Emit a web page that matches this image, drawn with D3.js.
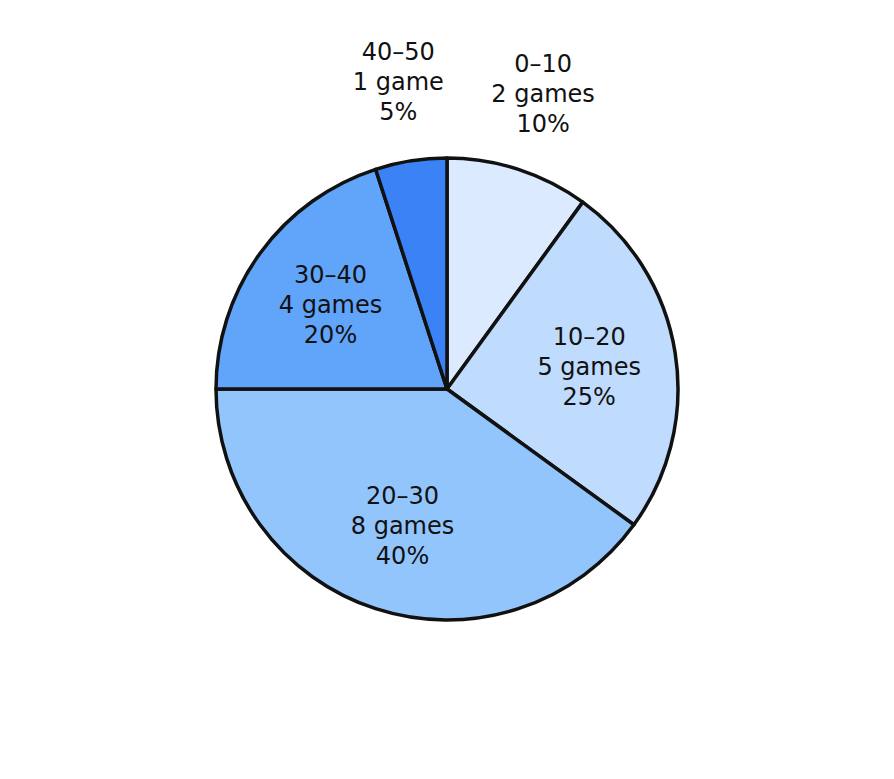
<!DOCTYPE html>
<html><head><meta charset="utf-8">
<script src="https://cdn.jsdelivr.net/npm/d3@7"></script>
<style>body{margin:0;background:#fff}</style></head>
<body><svg id="c" width="894" height="779"></svg>
<script>
const categories = ["0–10","10–20","20–30","30–40","40–50"];
const games = [2,5,8,4,1];
const units = ["games","games","games","games","game"];
const colors = ["#dbeafe","#bfdbfe","#93c5fd","#60a5fa","#3b82f6"];
const svg = d3.select("#c");
const cx=447, cy=389, R=231;
const g = svg.append("g").attr("transform",`translate(${cx},${cy})`);
const total = d3.sum(games);
const pie = d3.pie().sort(null)(games);
const arc = d3.arc().innerRadius(0).outerRadius(R);
g.selectAll("path").data(pie).join("path").attr("d",arc)
 .attr("fill",(d,i)=>colors[i]).attr("stroke","#111").attr("stroke-width",3.5).attr("stroke-linejoin","round");
pie.forEach((d,i)=>{
  const frac = games[i]/total;
  const rr = frac < 0.15 ? 311 : 144;
  const a = (d.startAngle+d.endAngle)/2;
  const x = rr*Math.sin(a), y = -rr*Math.cos(a);
  const lines=[categories[i], `${games[i]} ${units[i]}`, `${Math.round(frac*100)}%`];
  const t = g.append("text").attr("text-anchor","middle").attr("font-family","DejaVu Sans")
    .attr("font-size",24).attr("fill","#111");
  lines.forEach((l,k)=>t.append("tspan").attr("x",x).attr("y",y+(k-1)*30).attr("dy","0.35em").text(l));
});
</script></body></html>
